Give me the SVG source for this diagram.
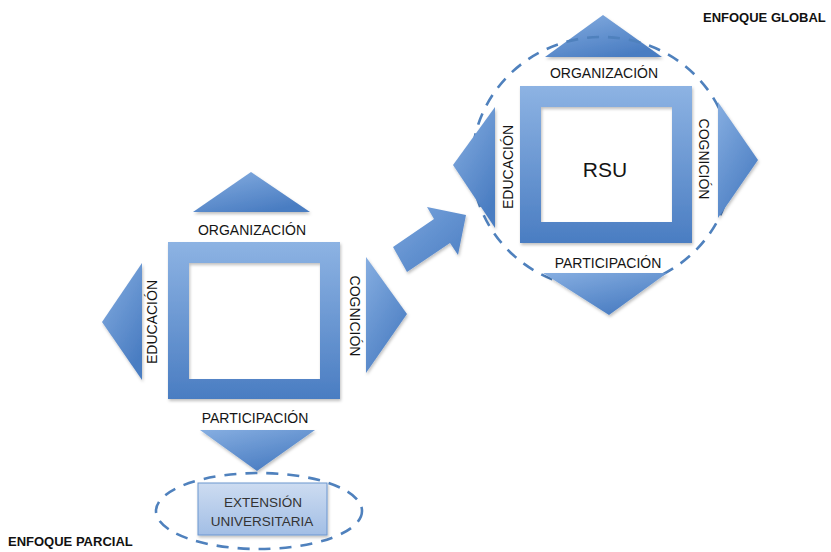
<svg xmlns="http://www.w3.org/2000/svg" width="831" height="552" viewBox="0 0 831 552">
<style>
  .lbl { font-family: "Liberation Sans", Arial, sans-serif; font-size: 14px; fill: #141414; text-anchor: middle; }
  .title { font-family: "Liberation Sans", Arial, sans-serif; font-size: 13px; font-weight: bold; fill: #111; }
  .frame { fill: url(#gFrame); fill-rule: evenodd; filter: url(#sh); }
  .tri { fill: url(#gTri); filter: url(#sh); }
  .dash { fill: none; stroke: #4f81bd; stroke-width: 2.6; stroke-dasharray: 12 9; }
</style>
<defs>
  <linearGradient id="gFrame" x1="0" y1="0" x2="0" y2="1">
    <stop offset="0" stop-color="#8db3e3"/>
    <stop offset="1" stop-color="#4a7dc2"/>
  </linearGradient>
  <linearGradient id="gTri" x1="0" y1="0" x2="0.6" y2="1">
    <stop offset="0" stop-color="#86aee1"/>
    <stop offset="1" stop-color="#4a7dc2"/>
  </linearGradient>
  <linearGradient id="gArrow" x1="0" y1="0" x2="1" y2="1">
    <stop offset="0" stop-color="#7aa5dd"/>
    <stop offset="1" stop-color="#4a7dc2"/>
  </linearGradient>
  <linearGradient id="gExt" x1="0" y1="0" x2="0" y2="1">
    <stop offset="0" stop-color="#cddcf1"/>
    <stop offset="1" stop-color="#a2bee5"/>
  </linearGradient>
  <filter id="sh" x="-10%" y="-10%" width="130%" height="130%">
    <feDropShadow dx="1" dy="2" stdDeviation="1.5" flood-color="#000" flood-opacity="0.25"/>
  </filter>
</defs>
<rect width="831" height="552" fill="#ffffff"/>

<g id="partial">
  <polygon class="tri" points="193,212 310,212 251,172"/>
  <text class="lbl" x="252" y="235">ORGANIZACIÓN</text>
  <polygon class="tri" points="142,263 142,380 102,322"/>
  <text class="lbl" transform="translate(157,322) rotate(-90)">EDUCACIÓN</text>
  <path class="frame" d="M168,242 H340 V399 H168 Z M189,263 V379 H320 V263 Z"/>
  <polygon class="tri" points="366,257 366,373 407,314"/>
  <text class="lbl" transform="translate(350,316) rotate(90)">COGNICIÓN</text>
  <text class="lbl" x="255" y="423">PARTICIPACIÓN</text>
  <polygon class="tri" points="200,430 315,430 257,471"/>
</g>

<g id="extension">
  <ellipse class="dash" cx="259" cy="511" rx="103" ry="38"/>
  <rect x="198" y="483" width="129" height="52" fill="url(#gExt)" stroke="#6d97d0" stroke-width="1" filter="url(#sh)"/>
  <text class="lbl" x="263" y="507" style="font-size:13.5px;fill:#333">EXTENSIÓN</text>
  <text class="lbl" x="262" y="526" style="font-size:13.5px;fill:#333">UNIVERSITARIA</text>
</g>

<g id="global">
  <polygon class="tri" points="545,57 662,57 603,15"/>
  <ellipse class="dash" cx="602" cy="163" rx="130" ry="126"/>
  <text class="lbl" x="604" y="78">ORGANIZACIÓN</text>
  <polygon class="tri" points="495,107 495,228 453,165"/>
  <text class="lbl" transform="translate(513,167) rotate(-90)">EDUCACIÓN</text>
  <path class="frame" d="M520,86 H692 V243 H520 Z M541,107 V222 H672 V107 Z"/>
  <text class="lbl" x="605" y="177" style="font-size:21px">RSU</text>
  <polygon class="tri" points="718,102 718,218 758,160"/>
  <text class="lbl" transform="translate(699,159) rotate(90)">COGNICIÓN</text>
  <text class="lbl" x="608" y="268">PARTICIPACIÓN</text>
  <polygon class="tri" points="543,273 667,273 609,315"/>
</g>

<g id="connectors">
  <polygon points="393,247 434,219 427,207 466,215 458,255 450,243 407,272" fill="url(#gArrow)" filter="url(#sh)"/>
</g>

<g id="labels">
  <text class="title" x="703" y="22">ENFOQUE GLOBAL</text>
  <text class="title" x="8" y="546">ENFOQUE PARCIAL</text>
</g>
</svg>
